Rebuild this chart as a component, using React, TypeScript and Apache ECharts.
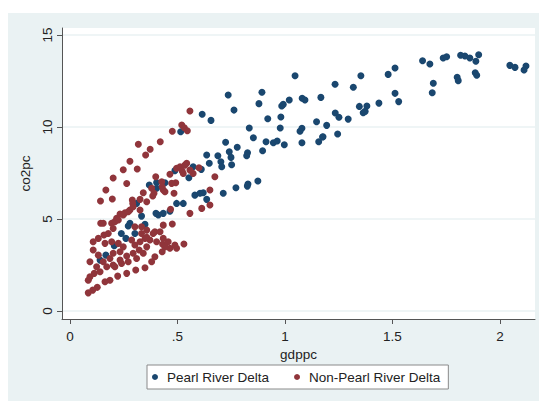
import React, { useEffect, useRef } from "react";
import * as echarts from "echarts";

const seriesNames = ["Pearl River Delta", "Non-Pearl River Delta"];
const seriesColors = ["#1a476f", "#90353b"];
const xTicks = [0, 0.5, 1, 1.5, 2];
const xTickLabels = ["0", ".5", "1", "1.5", "2"];
const yTicks = [0, 5, 10, 15];
const yTickLabels = ["0", "5", "10", "15"];

const pearlRiverDelta: [number, number][] = [
  [1.64, 13.6], [1.674, 13.42], [1.736, 13.75], [1.752, 13.82], [1.817, 13.9], [1.837, 13.86],
  [1.86, 13.75], [1.901, 13.93], [1.888, 13.57], [1.69, 12.38], [1.685, 11.86], [1.801, 12.7],
  [1.806, 12.52], [1.885, 12.95], [1.892, 12.81], [2.046, 13.35], [2.07, 13.24], [2.121, 13.32],
  [2.112, 13.1], [1.512, 13.21], [1.48, 12.86], [1.353, 12.79], [1.233, 12.32], [1.318, 12.16],
  [1.167, 11.61], [1.512, 11.83], [1.529, 11.38], [1.437, 11.3], [1.346, 11.12], [1.381, 11.14],
  [1.364, 10.78], [1.373, 10.85], [1.234, 10.76], [1.251, 10.53], [1.294, 10.43], [1.194, 10.09],
  [1.177, 9.47], [1.245, 9.62], [1.157, 9.2], [1.175, 9.46], [1.047, 12.79], [0.736, 11.74],
  [0.893, 11.89], [0.763, 10.92], [0.879, 11.27], [0.985, 11.14], [0.992, 11.23], [1.02, 11.47],
  [1.08, 11.56], [1.093, 11.47], [0.92, 10.45], [0.981, 10.54], [1.147, 10.29], [0.834, 9.95],
  [0.978, 9.95], [1.07, 9.77], [1.079, 9.93], [0.853, 9.42], [0.724, 9.17], [0.912, 9.2],
  [0.946, 9.15], [0.964, 9.24], [0.997, 9.04], [1.079, 9.15], [0.778, 8.9], [0.741, 8.66],
  [0.749, 8.35], [0.826, 8.6], [0.822, 8.44], [0.896, 8.71], [0.702, 8.11], [0.706, 7.84],
  [0.752, 7.95], [0.874, 7.07], [0.828, 6.9], [0.825, 6.79], [0.772, 6.7], [0.713, 6.4],
  [0.615, 10.69], [0.656, 10.36], [0.515, 9.74], [0.636, 8.48], [0.688, 8.44], [0.648, 8.03],
  [0.573, 7.84], [0.611, 7.7], [0.488, 7.63], [0.553, 7.24], [0.403, 6.99], [0.369, 6.85],
  [0.442, 6.97], [0.581, 6.3], [0.605, 6.4], [0.62, 6.43], [0.636, 6.07], [0.496, 5.85],
  [0.527, 5.85], [0.434, 5.31], [0.411, 5.22], [0.4, 5.31], [0.333, 5.16], [0.31, 5.85],
  [0.349, 4.71], [0.279, 4.77], [0.271, 4.62], [0.239, 4.22], [0.26, 3.95], [0.302, 4.22],
  [0.206, 3.55], [0.167, 3.04], [0.14, 2.77], [0.403, 6.67], [0.465, 5.43],
];

const nonPearlRiverDelta: [number, number][] = [
  [0.558, 10.87], [0.52, 10.11], [0.532, 9.96], [0.546, 9.8], [0.476, 9.77], [0.42, 9.2],
  [0.318, 9.06], [0.373, 8.79], [0.352, 8.48], [0.279, 8.14], [0.248, 7.68], [0.313, 7.72],
  [0.201, 7.23], [0.264, 6.93], [0.167, 6.58], [0.197, 6.09], [0.142, 5.98],
  [0.399, 7.3], [0.465, 7.43], [0.496, 7.76], [0.512, 7.84], [0.543, 8.03], [0.522, 7.61],
  [0.573, 7.48], [0.6, 7.79], [0.674, 7.3], [0.651, 6.58], [0.492, 6.97], [0.484, 6.4],
  [0.429, 6.76], [0.434, 6.58], [0.38, 6.67], [0.341, 6.43], [0.391, 6.4], [0.29, 6.03],
  [0.326, 6.07], [0.427, 7.03], [0.442, 6.48], [0.473, 6.94], [0.527, 7.48], [0.535, 7.93],
  [0.558, 7.66], [0.558, 5.31], [0.468, 5.53], [0.357, 5.94], [0.385, 6.25], [0.292, 5.85],
  [0.279, 5.49], [0.256, 5.34], [0.233, 5.27], [0.217, 5.04], [0.194, 4.77], [0.143, 4.77],
  [0.326, 5.49], [0.201, 4.49], [0.302, 4.58], [0.333, 4.58], [0.651, 5.76], [0.613, 5.58],
  [0.476, 4.73], [0.434, 4.67], [0.395, 4.31], [0.372, 3.86], [0.403, 3.77], [0.431, 3.63],
  [0.457, 3.77], [0.465, 3.41], [0.496, 3.41], [0.53, 3.64], [0.429, 3.22], [0.395, 2.95],
  [0.38, 2.68], [0.349, 2.35], [0.306, 2.23], [0.264, 2.05], [0.222, 1.9], [0.186, 1.68],
  [0.163, 1.59], [0.127, 1.29], [0.106, 1.14], [0.085, 0.99], [0.419, 4.31], [0.357, 4.4],
  [0.349, 3.95], [0.434, 3.95], [0.488, 3.59], [0.442, 3.49],
  [0.155, 4.77], [0.209, 4.86], [0.225, 4.95], [0.248, 5.22], [0.271, 5.4], [0.294, 5.67],
  [0.108, 3.77], [0.132, 3.95], [0.158, 4.13], [0.178, 4.22], [0.108, 3.32], [0.132, 3.04],
  [0.093, 2.68], [0.124, 2.41], [0.093, 1.86], [0.085, 1.68], [0.113, 2.05], [0.14, 2.14],
  [0.171, 2.41], [0.201, 2.5], [0.233, 2.77], [0.264, 2.99], [0.294, 3.14], [0.322, 3.32],
  [0.357, 3.49], [0.326, 3.77], [0.302, 3.59], [0.163, 3.68], [0.194, 3.77], [0.225, 3.68],
  [0.233, 3.22], [0.201, 3.14], [0.186, 2.86], [0.155, 2.68], [0.248, 3.49], [0.287, 3.86],
  [0.333, 4.22], [0.357, 4.01], [0.387, 4.22], [0.341, 3.14], [0.31, 2.86], [0.271, 2.68],
  [0.24, 2.59], [0.209, 2.41],
];

const FONT = "'Liberation Sans', Arial, sans-serif";

export default function App() {
  const ref = useRef<HTMLDivElement>(null);
  useEffect(() => {
    if (!ref.current) return;
    const chart = echarts.init(ref.current, undefined, { renderer: "svg" });
    const axisLineColor = "#555555";
    chart.setOption({
      animation: false,
      backgroundColor: "#eaf2f3",
      grid: {
        left: 54,
        top: 15,
        right: 4,
        bottom: 82,
        show: true,
        backgroundColor: "#ffffff",
        borderWidth: 0,
      },
      legend: {
        data: seriesNames,
        left: 139,
        top: 352,
        orient: "horizontal",
        backgroundColor: "#ffffff",
        borderColor: "#8a8a8a",
        borderWidth: 1,
        borderRadius: 0,
        padding: [5, 8, 5, 5],
        itemWidth: 6,
        itemHeight: 6,
        itemGap: 25,
        icon: "circle",
        textStyle: {
          fontSize: 13.5,
          color: "#222222",
          fontFamily: FONT,
          padding: [0, 0, 0, 4],
        },
      },
      xAxis: {
        type: "value",
        min: -0.037,
        max: 2.163,
        name: "gdppc",
        nameLocation: "middle",
        nameGap: 25,
        nameTextStyle: { fontSize: 13.5, color: "#222222", fontFamily: FONT },
        axisLine: { show: true, onZero: false, lineStyle: { color: axisLineColor, width: 1 } },
        axisTick: {
          show: true,
          length: 5,
          customValues: xTicks,
          lineStyle: { color: axisLineColor },
        },
        axisLabel: {
          customValues: xTicks,
          margin: 10,
          fontSize: 13.5,
          color: "#222222",
          fontFamily: FONT,
          formatter: (v: number) => {
            const i = xTicks.findIndex((t) => Math.abs(t - v) < 1e-6);
            return i >= 0 ? xTickLabels[i] : "";
          },
        },
        splitLine: { show: false },
      },
      yAxis: {
        type: "value",
        min: -0.43,
        max: 15.38,
        name: "co2pc",
        nameLocation: "middle",
        nameRotate: 90,
        nameGap: 24,
        nameTextStyle: { fontSize: 13.5, color: "#222222", fontFamily: FONT },
        axisLine: { show: true, onZero: false, lineStyle: { color: axisLineColor, width: 1 } },
        axisTick: {
          show: true,
          length: 5,
          customValues: yTicks,
          lineStyle: { color: axisLineColor },
        },
        axisLabel: {
          customValues: yTicks,
          rotate: 90,
          margin: 8,
          fontSize: 13.5,
          color: "#222222",
          fontFamily: FONT,
          formatter: (v: number) => {
            const i = yTicks.findIndex((t) => Math.abs(t - v) < 1e-6);
            return i >= 0 ? yTickLabels[i] : "";
          },
        },
        splitLine: { show: true, lineStyle: { color: "#eaf2f3", width: 1.5 } },
      },
      series: [
        {
          name: seriesNames[0],
          type: "scatter",
          data: pearlRiverDelta,
          symbol: "circle",
          symbolSize: 7,
          itemStyle: { color: seriesColors[0], opacity: 1 },
          emphasis: { disabled: true },
        },
        {
          name: seriesNames[1],
          type: "scatter",
          data: nonPearlRiverDelta,
          symbol: "circle",
          symbolSize: 7,
          itemStyle: { color: seriesColors[1], opacity: 1 },
          emphasis: { disabled: true },
        },
      ],
    });
    return () => chart.dispose();
  }, []);
  return (
    <div
      ref={ref}
      style={{ position: "absolute", left: 8, top: 13, width: 531, height: 388 }}
    />
  );
}
